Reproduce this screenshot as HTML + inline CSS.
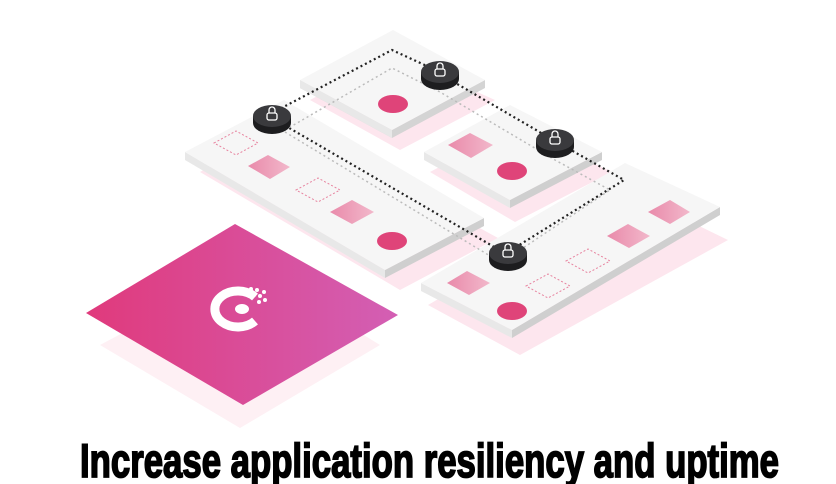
<!DOCTYPE html>
<html><head><meta charset="utf-8"><style>
html,body{margin:0;padding:0;background:#fff;width:836px;height:484px;overflow:hidden}
</style></head><body>
<svg width="836" height="484" viewBox="0 0 836 484" xmlns="http://www.w3.org/2000/svg">
<defs>
<linearGradient id="mg" x1="0" y1="0" x2="1" y2="0">
<stop offset="0" stop-color="#e03a7c"/><stop offset="1" stop-color="#d35fb4"/>
</linearGradient>
<linearGradient id="sq" x1="0" y1="0" x2="1" y2="0">
<stop offset="0" stop-color="#e98aaa"/><stop offset="1" stop-color="#f2b8cb"/>
</linearGradient>
</defs>

<!-- shadows -->
<g fill="#fde6ee">
<polygon points="200,172 290,124 498,238 400,290"/>
<polygon points="310,100 395,55 495,100 400,150"/>
<polygon points="430,172 515,127 612,172 515,222"/>
<polygon points="428,305 625,190 728,240 520,355"/>
</g>
<polygon points="100,345 250,265 380,345 240,428" fill="#fef0f4"/>

<!-- Plate A -->
<polygon points="300,80 300,88 392,138 485,88 485,80 392,130" fill="#d4d4d4"/>
<polygon points="300,80 392,130 392,138 300,88" fill="#e8e8e8"/>
<polygon points="300,80 393,30 485,80 392,130" fill="#f6f6f6"/>
<!-- Plate B -->
<polygon points="185,152 385,270 385,278 185,160" fill="#e8e8e8"/>
<polygon points="385,270 484,218 484,226 385,278" fill="#cfcfcf"/>
<polygon points="185,152 284,100 484,218 385,270" fill="#f6f6f6"/>
<!-- Plate C -->
<polygon points="424,152 510,200 510,208 424,160" fill="#e8e8e8"/>
<polygon points="510,200 602,152 602,160 510,208" fill="#cfcfcf"/>
<polygon points="424,152 510,105 602,152 510,200" fill="#f6f6f6"/>
<!-- Plate D -->
<polygon points="421,283 512,330 512,338 421,291" fill="#e8e8e8"/>
<polygon points="512,330 720,207 720,215 512,338" fill="#cfcfcf"/>
<polygon points="421,283 625,163 720,207 512,330" fill="#f6f6f6"/>

<!-- pink squares -->
<g fill="url(#sq)">
<polygon points="248,166 268,155 290,167 270,179"/>
<polygon points="330,212 352,200 374,212 352,224"/>
<polygon points="448,145 470,133 493,145 471,158"/>
<polygon points="447,283 467,271 490,283 469,295"/>
<polygon points="607,236 628,224 650,236 629,248"/>
<polygon points="648,212 670,200 690,212 670,224"/>
</g>
<!-- dashed squares -->
<g fill="none" stroke="#e7839f" stroke-width="1" stroke-dasharray="2,2">
<polygon points="214,143 236,131 258,143 236,155"/>
<polygon points="296,190 318,178 340,190 318,202"/>
<polygon points="526,286 548,274 570,286 548,298"/>
<polygon points="566,261 588,249 610,261 588,273"/>
</g>
<!-- circles -->
<g fill="#df4479">
<ellipse cx="393" cy="104" rx="15" ry="9"/>
<ellipse cx="512" cy="171" rx="15" ry="9"/>
<ellipse cx="392" cy="241" rx="15" ry="9"/>
<ellipse cx="512" cy="311" rx="15" ry="9"/>
</g>

<!-- dotted connectors -->
<g fill="none" stroke="#222" stroke-width="2.2" stroke-dasharray="2,3">
<polyline points="272,113 392,50 440,72"/>
<line x1="440" y1="74" x2="555" y2="141"/>
<polyline points="555,141 624,180 508,252"/>
<line x1="272" y1="118" x2="508" y2="255"/>
</g>
<g fill="none" stroke="#bbb" stroke-width="1.5" stroke-dasharray="2,3">
<polyline points="285,130 392,68 440,92 555,160 610,190 520,250"/>
<line x1="285" y1="132" x2="500" y2="262"/>
</g>

<!-- locks -->
<g>
<g transform="translate(272,116)">
<path d="M-19,0 v7 a19,11 0 0 0 38,0 v-7z" fill="#1d1d1f"/><ellipse cx="0" cy="0" rx="19" ry="11" fill="#3a3a3d"/>
<rect x="-5" y="-3" width="10" height="7" rx="2" fill="none" stroke="#fff" stroke-width="1.3"/><path d="M-3,-3 v-3 a3,3 0 0 1 6,0 v3" fill="none" stroke="#fff" stroke-width="1.3"/></g>
<g transform="translate(440,72)">
<path d="M-19,0 v7 a19,11 0 0 0 38,0 v-7z" fill="#1d1d1f"/><ellipse cx="0" cy="0" rx="19" ry="11" fill="#3a3a3d"/>
<rect x="-5" y="-3" width="10" height="7" rx="2" fill="none" stroke="#fff" stroke-width="1.3"/><path d="M-3,-3 v-3 a3,3 0 0 1 6,0 v3" fill="none" stroke="#fff" stroke-width="1.3"/></g>
<g transform="translate(555,140)">
<path d="M-19,0 v7 a19,11 0 0 0 38,0 v-7z" fill="#1d1d1f"/><ellipse cx="0" cy="0" rx="19" ry="11" fill="#3a3a3d"/>
<rect x="-5" y="-3" width="10" height="7" rx="2" fill="none" stroke="#fff" stroke-width="1.3"/><path d="M-3,-3 v-3 a3,3 0 0 1 6,0 v3" fill="none" stroke="#fff" stroke-width="1.3"/></g>
<g transform="translate(508,253)">
<path d="M-19,0 v7 a19,11 0 0 0 38,0 v-7z" fill="#1d1d1f"/><ellipse cx="0" cy="0" rx="19" ry="11" fill="#3a3a3d"/>
<rect x="-5" y="-3" width="10" height="7" rx="2" fill="none" stroke="#fff" stroke-width="1.3"/><path d="M-3,-3 v-3 a3,3 0 0 1 6,0 v3" fill="none" stroke="#fff" stroke-width="1.3"/></g>
</g>

<!-- magenta tile -->
<polygon points="86,313 235,224 398,315 243,405" fill="url(#mg)"/>
<g transform="translate(237,309)">
<path d="M18,-12 A23,18 0 1 0 18,12" fill="none" stroke="#fff" stroke-width="9"/>
<ellipse cx="5" cy="0" rx="7" ry="5" fill="#fff"/>
<g fill="#fff"><circle cx="14" cy="-20" r="2"/><circle cx="20" cy="-19" r="2"/><circle cx="17" cy="-14" r="2"/><circle cx="23" cy="-13" r="2"/><circle cx="27" cy="-17" r="2"/><circle cx="28" cy="-9" r="2"/><circle cx="22" cy="-7" r="2"/></g>
</g>

<text x="80" y="477" font-family="'Liberation Sans Narrow','Liberation Sans',sans-serif" font-weight="bold" font-size="47" textLength="699" lengthAdjust="spacingAndGlyphs" fill="#000" stroke="#000" stroke-width="1.8">Increase application resiliency and uptime</text>
</svg>
</body></html>
